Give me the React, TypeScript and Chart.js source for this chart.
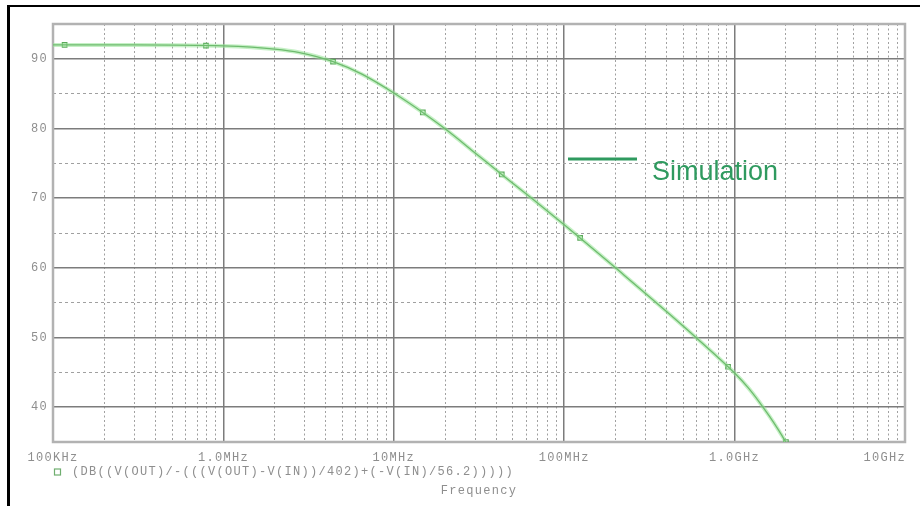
import React, { useEffect, useRef } from "react";
import { Chart, registerables } from "chart.js";

Chart.register(...registerables);

// ---- data (PSpice AC sweep) ----
const freqHz = [1e5, 3e5, 1e6, 2e6, 2.8e6, 4.4e6, 6.5e6, 1e7, 1.5e7, 2e7, 3e7, 4.3e7, 6.5e7, 1e8, 1.24e8, 2e8, 4e8, 6e8, 1e9, 1.2e9, 1.4e9, 1.6e9, 1.8e9, 2e9];
const gainDb = [92.0, 92.0, 91.85, 91.4, 90.9, 89.6, 87.8, 85.1, 82.2, 79.95, 76.5, 73.4, 69.9, 66.2, 64.3, 60.0, 53.7, 49.9, 44.9, 42.8, 40.7, 38.7, 36.8, 35.0];

const markerFreqHz = [1.17e5, 7.9e5, 4.4e6, 1.48e7, 4.3e7, 1.24e8, 9.15e8, 2e9];
const markerGainDb = [92.0, 91.9, 89.6, 82.3, 73.4, 64.3, 45.8, 35.0];

const xDecades = [1e5, 1e6, 1e7, 1e8, 1e9, 1e10];
const xTickLabels = ["100KHz", "1.0MHz", "10MHz", "100MHz", "1.0GHz", "10GHz"];
const xGridMantissas = [1, 2, 3, 4, 5, 6, 7, 8, 9];

const yGridValues = [35, 40, 45, 50, 55, 60, 65, 70, 75, 80, 85, 90, 95];
const yTickValues = [40, 50, 60, 70, 80, 90];
const yTickLabels = ["40", "50", "60", "70", "80", "90"];

const traceLabel = "(DB((V(OUT)/-(((V(OUT)-V(IN))/402)+(-V(IN)/56.2)))))";
const xTitle = "Frequency";
const legendLabel = "Simulation";

const isDecade = (v: number) => Math.abs(Math.log10(v) - Math.round(Math.log10(v))) < 1e-9;

const GRAY_TEXT = "#8e8e8e";
const MONO = '12px "Liberation Mono", "DejaVu Sans Mono", monospace';

const framePlugin = {
  id: "pspiceFrame",
  beforeDatasetsDraw(chart: any) {
    const { ctx, chartArea: a } = chart;
    ctx.save();
    ctx.strokeStyle = "#b2b2b2";
    ctx.lineWidth = 2.5;
    ctx.strokeRect(a.left, a.top, a.right - a.left, a.bottom - a.top);
    ctx.restore();
  },
  afterDraw(chart: any) {
    const { ctx, chartArea: a, scales } = chart;
    const x = scales.x;
    const y = scales.y;
    ctx.save();
    ctx.font = MONO;
    (ctx as any).letterSpacing = "1.3px";
    ctx.fillStyle = GRAY_TEXT;
    ctx.textBaseline = "middle";

    // y tick labels
    ctx.textAlign = "right";
    yTickValues.forEach((v, i) => {
      ctx.fillText(yTickLabels[i], a.left - 5, y.getPixelForValue(v));
    });

    // x tick labels
    xDecades.forEach((v, i) => {
      const px = x.getPixelForValue(v);
      const last = i === xDecades.length - 1;
      ctx.textAlign = last ? "right" : "center";
      ctx.fillText(xTickLabels[i], last ? px + 1 : px, a.bottom + 16);
    });

    // trace legend
    ctx.strokeStyle = "#6fae6f";
    ctx.lineWidth = 1.2;
    ctx.strokeRect(a.left + 1.5, a.bottom + 27, 6, 6);
    ctx.textAlign = "left";
    ctx.fillText(traceLabel, a.left + 19, a.bottom + 30);

    // x title
    ctx.textAlign = "center";
    ctx.fillText(xTitle, 479, a.bottom + 49);

    // "Simulation" annotation
    (ctx as any).letterSpacing = "0px";
    ctx.strokeStyle = "#2f9a5f";
    ctx.lineWidth = 3;
    ctx.beginPath();
    ctx.moveTo(568, 159);
    ctx.lineTo(637, 159);
    ctx.stroke();
    ctx.fillStyle = "#2f9a5f";
    ctx.font = '27px "Liberation Sans", Arial, sans-serif';
    ctx.textAlign = "left";
    ctx.textBaseline = "alphabetic";
    ctx.fillText(legendLabel, 652, 180);
    ctx.restore();
  },
};

export default function App() {
  const canvasRef = useRef<HTMLCanvasElement | null>(null);

  useEffect(() => {
    const canvas = canvasRef.current;
    if (!canvas) return;

    const curve = freqHz.map((f, i) => ({ x: f, y: gainDb[i] }));
    const markers = markerFreqHz.map((f, i) => ({ x: f, y: markerGainDb[i] }));

    const xGridTicks: number[] = [];
    xDecades.forEach((d, i) => {
      if (i === xDecades.length - 1) xGridTicks.push(d);
      else xGridMantissas.forEach((m) => xGridTicks.push(m * d));
    });

    const chart = new Chart(canvas, {
      type: "scatter",
      data: {
        datasets: [
          {
            label: "halo",
            data: curve,
            showLine: true,
            borderColor: "rgba(150,228,150,0.55)",
            borderWidth: 4,
            pointRadius: 0,
            cubicInterpolationMode: "monotone",
          },
          {
            label: legendLabel,
            data: curve,
            showLine: true,
            borderColor: "#3f8a3f",
            borderWidth: 1.3,
            pointRadius: 0,
            cubicInterpolationMode: "monotone",
          },
          {
            label: "markers",
            data: markers,
            showLine: false,
            pointStyle: "rect",
            pointRadius: 3.2,
            borderWidth: 1.2,
            borderColor: "#5aa85a",
            backgroundColor: "rgba(0,0,0,0)",
          },
        ],
      },
      options: {
        animation: false,
        responsive: false,
        maintainAspectRatio: false,
        layout: { padding: { left: 53, top: 24, right: 15, bottom: 64 } },
        plugins: { legend: { display: false }, tooltip: { enabled: false } },
        scales: {
          x: {
            type: "logarithmic",
            min: 1e5,
            max: 1e10,
            afterBuildTicks: (scale: any) => {
              scale.ticks = xGridTicks.map((v) => ({ value: v }));
            },
            ticks: { display: false },
            grid: {
              drawTicks: false,
              color: (c: any) => (c.tick && isDecade(c.tick.value) ? "#7c7c7c" : "#a0a0a0"),
              lineWidth: (c: any) => (c.tick && isDecade(c.tick.value) ? 1.5 : 1),
            },
            border: {
              display: false,
              dash: (c: any) => (c.tick && !isDecade(c.tick.value) ? [2, 2.5] : []),
            },
          },
          y: {
            type: "linear",
            min: 35,
            max: 95,
            afterBuildTicks: (scale: any) => {
              scale.ticks = yGridValues.map((v) => ({ value: v }));
            },
            ticks: { display: false },
            grid: {
              drawTicks: false,
              color: (c: any) => (c.tick && c.tick.value % 10 === 0 ? "#7c7c7c" : "#a0a0a0"),
              lineWidth: (c: any) => (c.tick && c.tick.value % 10 === 0 ? 1.5 : 1),
            },
            border: {
              display: false,
              dash: (c: any) => (c.tick && c.tick.value % 10 !== 0 ? [3, 3] : []),
            },
          },
        },
      },
      plugins: [framePlugin],
    } as any);

    return () => chart.destroy();
  }, []);

  return (
    <div style={{ position: "fixed", left: 0, top: 0, width: 920, height: 506, background: "#fff", overflow: "hidden" }}>
      <canvas ref={canvasRef} width={920} height={506} style={{ position: "absolute", left: 0, top: 0, width: 920, height: 506 }} />
      <div
        style={{
          position: "absolute",
          left: 7,
          top: 5,
          right: 0,
          bottom: 0,
          borderLeft: "3px solid #000",
          borderTop: "2px solid #000",
          pointerEvents: "none",
        }}
      />
    </div>
  );
}
